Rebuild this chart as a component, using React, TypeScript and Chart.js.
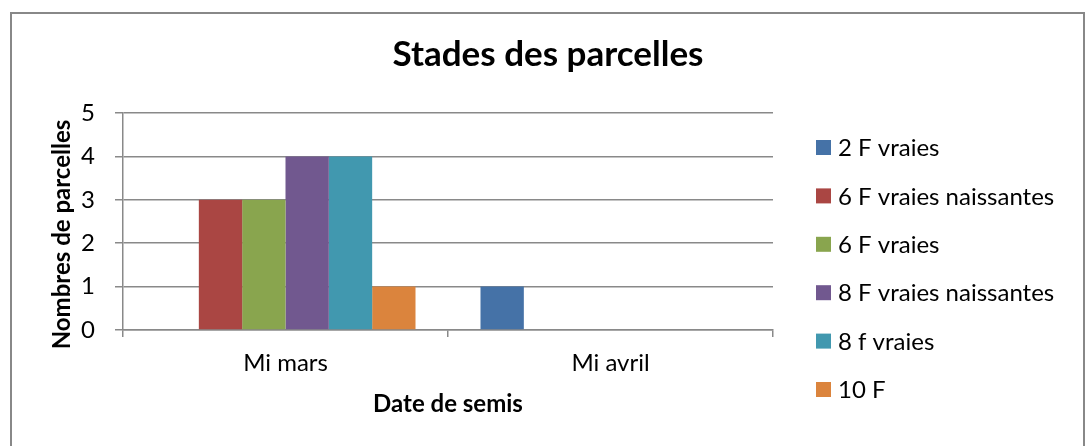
import React, { useEffect, useRef } from "react";
import { Chart, registerables } from "chart.js";

Chart.register(...registerables);

const categories = ["Mi mars", "Mi avril"];
const seriesLabels = [
  "2 F vraies",
  "6 F vraies naissantes",
  "6 F vraies",
  "8 F vraies naissantes",
  "8 f vraies",
  "10 F",
];
const seriesColors = ["#4572A7", "#AA4643", "#89A54E", "#71588F", "#4198AF", "#DB843D"];
const s2FVraies = [0, 1];
const s6FVraiesNaissantes = [3, 0];
const s6FVraies = [3, 0];
const s8FVraiesNaissantes = [4, 0];
const s8fVraies = [4, 0];
const s10F = [1, 0];
const seriesValues = [s2FVraies, s6FVraiesNaissantes, s6FVraies, s8FVraiesNaissantes, s8fVraies, s10F];

const chartTitle = "Stades des parcelles";
const xTitle = "Date de semis";
const yTitle = "Nombres de parcelles";

const FONT = "Lato";
const GRID = "#898989";

const decorPlugin = {
  id: "decor",
  beforeDraw(chart: any) {
    const ctx = chart.ctx;
    ctx.save();
    ctx.fillStyle = "#ffffff";
    ctx.fillRect(0, 0, chart.width, chart.height);
    ctx.restore();
  },
  afterDraw(chart: any) {
    const ctx = chart.ctx;
    ctx.save();
    // frame
    ctx.strokeStyle = "#888888";
    ctx.lineWidth = 2;
    ctx.strokeRect(11, 13, 1073, 500);
    // y axis title
    const area = chart.chartArea;
    ctx.translate(62, area.top + (area.bottom - area.top) / 2 + 13);
    ctx.rotate(-Math.PI / 2);
    ctx.font = `bold 24px ${FONT}`;
    ctx.fillStyle = "#000";
    ctx.textAlign = "center";
    ctx.textBaseline = "middle";
    ctx.fillText(yTitle, 0, 0);
    ctx.restore();

    // legend
    ctx.save();
    ctx.font = `24px ${FONT}`;
    ctx.textAlign = "left";
    ctx.textBaseline = "middle";
    chart.data.datasets.forEach((ds: any, i: number) => {
      const cy = 147.5 + i * 48.4;
      ctx.fillStyle = ds.backgroundColor;
      ctx.fillRect(816, cy - 7.5, 15, 15);
      ctx.fillStyle = "#000";
      ctx.fillText(ds.label, 838, cy + 1);
    });
    ctx.restore();
  },
};

export default function App() {
  const ref = useRef<HTMLCanvasElement | null>(null);
  useEffect(() => {
    if (!ref.current) return;
    const chart = new Chart(ref.current, {
      type: "bar",
      data: {
        labels: categories,
        datasets: seriesLabels.map((label, i) => ({
          label,
          data: seriesValues[i],
          backgroundColor: seriesColors[i],
          borderWidth: 0,
          categoryPercentage: 0.8,
          barPercentage: 1.0,
        })),
      },
      options: {
        animation: false,
        responsive: false,
        maintainAspectRatio: false,
        devicePixelRatio: 1,
        layout: { padding: { left: 7, right: 0, top: 0, bottom: 27 } },
        plugins: {
          legend: { display: false },
          tooltip: { enabled: false },
          title: {
            display: true,
            text: chartTitle,
            color: "#000",
            font: { family: FONT, size: 35, weight: "bold" },
            padding: { top: 34, bottom: 37 },
          },
        },
        scales: {
          x: {
            type: "category",
            grid: {
              drawOnChartArea: false,
              drawTicks: true,
              tickLength: 7,
              color: GRID,
              lineWidth: 1.5,
            },
            border: { color: GRID, width: 1.5 },
            ticks: { color: "#000", font: { family: FONT, size: 24 }, padding: 12 },
            title: {
              display: true,
              text: xTitle,
              color: "#000",
              font: { family: FONT, size: 24, weight: "bold" },
              padding: { top: 0, bottom: 0 },
            },
            afterFit: (s: any) => {
              s.height = 89;
            },
          },
          y: {
            min: 0,
            max: 5,
            ticks: { stepSize: 1, color: "#000", font: { family: FONT, size: 24 }, padding: 20 },
            grid: { color: GRID, lineWidth: 1.5, tickLength: 8 },
            border: { color: GRID, width: 1.5 },
            afterFit: (s: any) => {
              s.width = 116;
            },
          },
          yRight: {
            position: "right",
            min: 0,
            max: 1,
            grid: { display: false },
            border: { display: false },
            ticks: { display: false },
            afterFit: (s: any) => {
              s.width = 316;
            },
          },
        },
      },
      plugins: [decorPlugin],
    });
    return () => chart.destroy();
  }, []);
  return (
    <div style={{ position: "absolute", left: 0, top: 0, width: 1089, height: 446 }}>
      <canvas ref={ref} width={1089} height={446} style={{ width: 1089, height: 446, display: "block" }} />
    </div>
  );
}
